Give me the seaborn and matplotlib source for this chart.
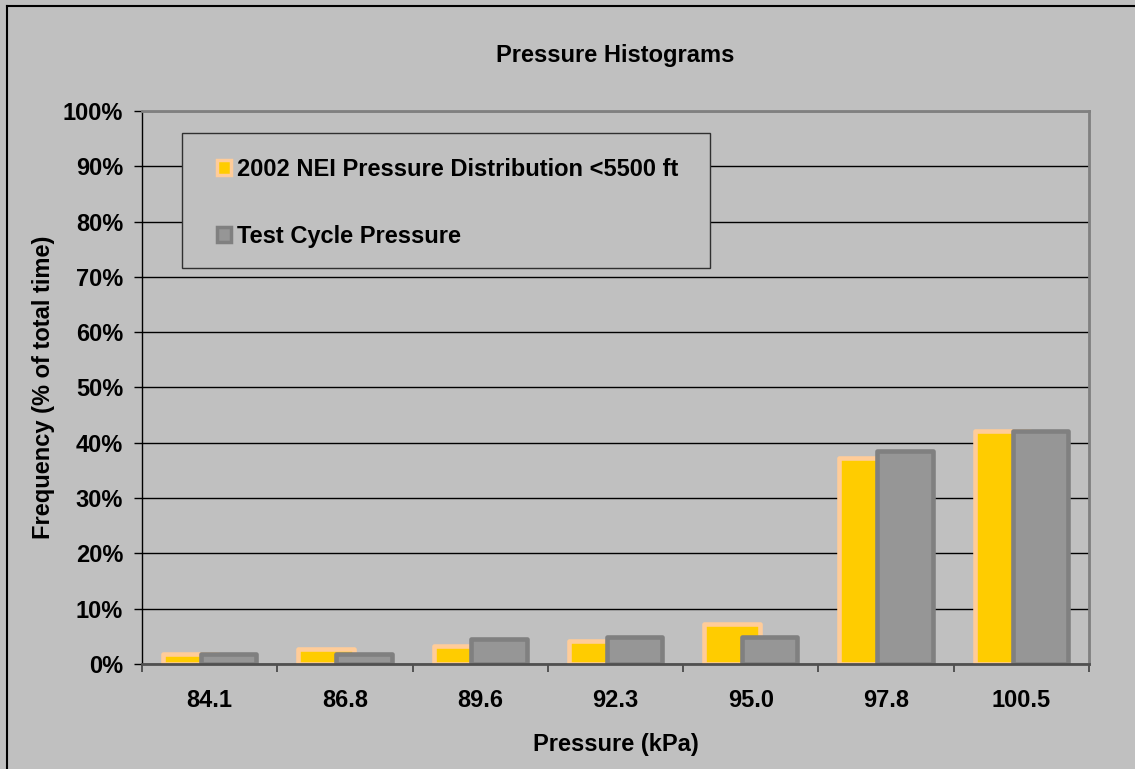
import matplotlib
matplotlib.use("Agg")
import matplotlib.pyplot as plt
import matplotlib.ticker as mticker
from matplotlib.patches import Rectangle, Patch
from matplotlib.lines import Line2D
import pandas as pd
import seaborn as sns

# Pressure bins (kPa) and share of total time in each bin (%)
pressure_bins = ["84.1", "86.8", "89.6", "92.3", "95.0", "97.8", "100.5"]
nei_2002 = [1.8, 2.7, 3.2, 4.1, 7.3, 37.2, 42.2]
test_cycle = [1.9, 1.9, 4.6, 4.8, 4.8, 38.6, 42.2]
series_names = ["2002 NEI Pressure Distribution <5500 ft", "Test Cycle Pressure"]
y_ticks = list(range(0, 101, 10))

BG = "#C0C0C0"
FILLS = ["#FFCC00", "#969696"]
EDGES = ["#FFCC99", "#808080"]
FS = 17

plt.rcParams["font.family"] = ["Liberation Sans", "DejaVu Sans"]
plt.rcParams["font.weight"] = "bold"

df = pd.DataFrame({
    "Pressure": pressure_bins * 2,
    "Frequency": nei_2002 + test_cycle,
    "Series": [series_names[0]] * len(pressure_bins) + [series_names[1]] * len(pressure_bins),
})

fig = plt.figure(figsize=(11.35, 7.69), dpi=100, facecolor=BG)
ax = fig.add_axes([0.1251, 0.1365, 0.8344, 0.7192])
ax.set_facecolor(BG)

sns.barplot(data=df, x="Pressure", y="Frequency", hue="Series", order=pressure_bins,
            hue_order=series_names, palette=FILLS, width=0.56, dodge=True,
            errorbar=None, legend=False, ax=ax, zorder=3)

# overlapping bars: widen each bar around its dodged centre
bar_w = 0.41
for i, cont in enumerate(ax.containers):
    for p in cont:
        c = p.get_x() + p.get_width() / 2
        p.set_width(bar_w)
        p.set_x(c - bar_w / 2)
        p.set_facecolor(FILLS[i])
        p.set_edgecolor(EDGES[i])
        p.set_linewidth(3.3)
        p.set_joinstyle("round")

ax.set_xlim(-0.5, len(pressure_bins) - 0.5)
ax.set_ylim(0, 100)
ax.set_yticks(y_ticks)
ax.yaxis.set_major_formatter(mticker.FuncFormatter(lambda v, _: f"{v:.0f}%"))
ax.yaxis.grid(True, color="black", linewidth=1.0, zorder=0)
ax.set_axisbelow(True)

ax.tick_params(axis="y", direction="out", length=6, width=1, color="black",
               labelsize=FS, pad=7.5)
ax.tick_params(axis="x", which="major", length=0, labelsize=FS, pad=18)
ax.xaxis.set_minor_locator(mticker.FixedLocator([k - 0.5 for k in range(len(pressure_bins) + 1)]))
ax.tick_params(axis="x", which="minor", direction="out", length=6, width=1.2, color="#404040")
for lab in ax.get_xticklabels() + ax.get_yticklabels():
    lab.set_fontweight("bold")

ax.spines["left"].set_color("black")
ax.spines["left"].set_linewidth(1.0)
ax.spines["bottom"].set_color("#505050")
ax.spines["bottom"].set_linewidth(2.0)
ax.spines["top"].set_color("#808080")
ax.spines["top"].set_linewidth(2.0)
ax.spines["right"].set_color("#808080")
ax.spines["right"].set_linewidth(2.0)
for s in ax.spines.values():
    s.set_zorder(4)

ax.set_title("Pressure Histograms", fontsize=FS, fontweight="bold", pad=35)
ax.set_xlabel("Pressure (kPa)", fontsize=FS, fontweight="bold", labelpad=15)
ax.set_ylabel("Frequency (% of total time)", fontsize=FS, fontweight="bold", labelpad=6)

# legend: framed box with square swatches
frame = Rectangle((0.0422, 0.716), 0.5576, 0.244, transform=ax.transAxes,
                  facecolor=BG, edgecolor="#303030", linewidth=1.0, zorder=5)
ax.add_patch(frame)
handles = [Patch(facecolor=FILLS[i], edgecolor=EDGES[i], linewidth=2.5, label=series_names[i])
           for i in range(2)]
leg = ax.legend(handles=handles, loc="upper left", bbox_to_anchor=(0.0792, 0.915),
                frameon=False, borderpad=0, borderaxespad=0, handlelength=0.6,
                handleheight=0.6, handletextpad=0.25, labelspacing=1.85,
                prop={"size": FS, "weight": "bold"})
leg.set_zorder(6)

# outer chart border (left and top edges)
fig.add_artist(Line2D([0.0062, 0.0062], [0.0, 0.9922], transform=fig.transFigure,
                      color="black", linewidth=1.5))
fig.add_artist(Line2D([0.0062, 1.0], [0.9922, 0.9922], transform=fig.transFigure,
                      color="black", linewidth=1.5))

fig.savefig("out.png", dpi=100, facecolor=BG)
